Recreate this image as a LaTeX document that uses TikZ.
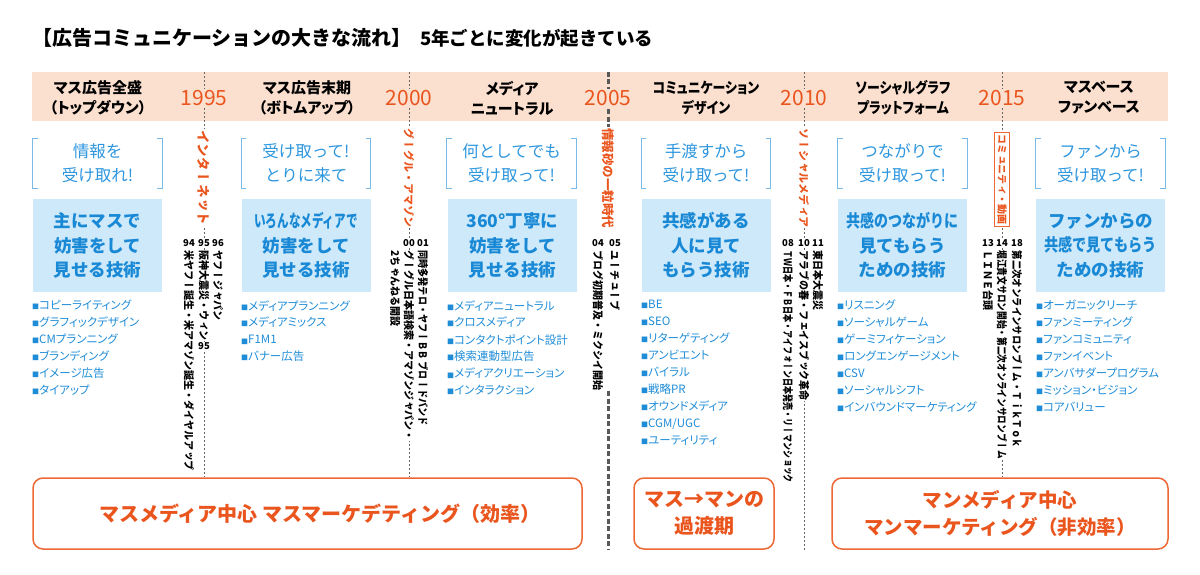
\documentclass[tikz,border=0pt]{standalone}
\usepackage{fontspec}
\setmainfont{Noto Sans CJK JP}
\newfontfamily\propfont{Noto Sans CJK JP}[RawFeature=+palt]
\newfontfamily\tatefont{Noto Sans CJK JP}[Vertical=RotatedGlyphs]
\usetikzlibrary{backgrounds}
\definecolor{bandpeach}{RGB}{251,224,208}
\definecolor{eraorange}{RGB}{234,85,30}
\definecolor{boxorange}{RGB}{236,104,52}
\definecolor{saybrk}{RGB}{120,185,232}
\definecolor{saytext}{RGB}{45,150,222}
\definecolor{techfill}{RGB}{206,233,249}
\definecolor{techtext}{RGB}{25,137,214}
\definecolor{itemtext}{RGB}{30,140,215}
\newcommand\itemsq{{\fontsize{7}{7}\selectfont ■}}
\newcommand\narrow[2]{\scalebox{#1}[1]{#2}}
\tikzset{
  ttl/.style={font=\bfseries\fontsize{20}{20}\selectfont,anchor=west,inner sep=0pt},
  bandbox/.style={fill=bandpeach,minimum width=1136,minimum height=49,inner sep=0pt},
  hdr/.style={font=\propfont\bfseries\fontsize{15}{20}\selectfont,align=center},
  yr/.style={font=\fontsize{21}{21}\selectfont,text=eraorange,fill=bandpeach,inner sep=1pt},
  say/.style={font=\fontsize{16.5}{24}\selectfont,text=saytext,align=center,minimum width=129,minimum height=49,inner sep=0pt},
  brk/.style={draw=saybrk,line width=1.2pt},
  tech/.style={fill=techfill,font=\bfseries\fontsize{17.5}{24.5}\selectfont,text=techtext,align=center,minimum width=129,minimum height=93,inner sep=0pt},
  era/.style={text=eraorange,rotate=-90,anchor=west,fill=white,inner sep=1pt},
  num/.style={font=\bfseries\fontsize{9.5}{9.5}\selectfont,fill=white,inner sep=0.5pt},
  ev/.style={font=\tatefont\bfseries\fontsize{10.8}{10.8}\selectfont,rotate=-90,xscale=0.926,anchor=west,fill=white,inner sep=0.5pt},
  items/.style={font=\propfont\fontsize{11.5}{17}\selectfont,text=itemtext,align=left,anchor=north west,inner sep=0pt},
  trend/.style={draw=boxorange,line width=1.5pt,rounded corners=10pt,fill=white,font=\bfseries\fontsize{20}{27}\selectfont,text=eraorange,align=center,minimum height=71},
  divthin/.style={draw=black!60,line width=0.6pt,dash pattern=on 2pt off 2pt},
  divthick/.style={draw=black!65,line width=3pt,dash pattern=on 5pt off 2.5pt}
}
\begin{document}
\begin{tikzpicture}[x=1pt,y=-1pt]
\useasboundingbox (0,0) rectangle (1200,575);
\node[ttl] (title) at (32,38) {【広告コミュニケーションの大きな流れ】};
\node[ttl,font=\bfseries\fontsize{18.5}{18.5}\selectfont] (subtitle) at (420,38) {5年ごとに変化が起きている};

\node[hdr] (h1) at (98,98) {マス広告全盛\\（トップダウン）};
\node[hdr] (h2) at (307,98) {マス広告末期\\（ボトムアップ）};
\node[hdr] (h3) at (512,98) {メディア\\ニュートラル};
\node[hdr,xscale=0.86] (h4) at (706,98) {コミュニケーション\\デザイン};
\node[hdr,xscale=0.86] (h5) at (903,98) {ソーシャルグラフ\\プラットフォーム};
\node[hdr] (h6) at (1099,98) {マスベース\\ファンベース};
\coordinate (d1) at (204,0);
\coordinate (d2) at (409,0);
\coordinate (d3) at (608,0);
\coordinate (d4) at (804,0);
\coordinate (d5) at (1002,0);
\node[yr] (y1) at (d1 |- h1) {1995};
\node[yr] (y2) at (d2 |- h1) {2000};
\node[yr] (y3) at (d3 |- h1) {2005};
\node[yr] (y4) at (d4 |- h1) {2010};
\node[yr] (y5) at (d5 |- h1) {2015};

\node[say] (s1) at (97.5,163.5) {情報を\\受け取れ!};
\node[say] (s2) at (306,163.5) {受け取って!\\とりに来て};
\node[say] (s3) at (511.5,163.5) {何としてでも\\受け取って!};
\node[say] (s4) at (706,163.5) {手渡すから\\受け取って!};
\node[say] (s5) at (902.5,163.5) {つながりで\\受け取って!};
\node[say] (s6) at (1100.5,163.5) {ファンから\\受け取って!};
\foreach \s in {s1,s2,s3,s4,s5,s6}{
  \draw[brk] ([xshift=5pt]\s.north west) -- (\s.north west) -- (\s.south west) -- ([xshift=5pt]\s.south west);
  \draw[brk] ([xshift=-5pt]\s.north east) -- (\s.north east) -- (\s.south east) -- ([xshift=-5pt]\s.south east);
}
\node[tech] (t1) at (97.5,245.5) {主にマスで\\妨害をして\\見せる技術};
\node[tech] (t2) at (306,245.5) {\narrow{0.66}{いろんなメディアで}\\妨害をして\\見せる技術};
\node[tech] (t3) at (512.5,245.5) {360°丁寧に\\妨害をして\\見せる技術};
\node[tech] (t4) at (706,245.5) {共感がある\\人に見て\\もらう技術};
\node[tech] (t5) at (902.5,245.5) {\narrow{0.8}{共感のつながりに}\\見てもらう\\ための技術};
\node[tech] (t6) at (1100.5,245.5) {ファンからの\\\narrow{0.81}{共感で見てもらう}\\ための技術};

\node[items] (l1) at (32,300) {\itemsq コピーライティング\\\itemsq グラフィックデザイン\\\itemsq CMプランニング\\\itemsq ブランディング\\\itemsq イメージ広告\\\itemsq タイアップ};
\node[items] (l2) at (241,300) {\itemsq メディアプランニング\\\itemsq メディアミックス\\\itemsq F1M1\\\itemsq バナー広告};
\node[items] (l3) at (447,300) {\itemsq メディアニュートラル\\\itemsq クロスメディア\\\itemsq コンタクトポイント設計\\\itemsq 検索連動型広告\\\itemsq メディアクリエーション\\\itemsq インタラクション};
\node[items] (l4) at (641,300) {\itemsq BE\\\itemsq SEO\\\itemsq リターゲティング\\\itemsq アンビエント\\\itemsq バイラル\\\itemsq 戦略PR\\\itemsq オウンドメディア\\\itemsq CGM/UGC\\\itemsq ユーティリティ};
\node[items] (l5) at (837,300) {\itemsq リスニング\\\itemsq ソーシャルゲーム\\\itemsq ゲーミフィケーション\\\itemsq ロングエンゲージメント\\\itemsq CSV\\\itemsq ソーシャルシフト\\\itemsq インバウンドマーケティング};
\node[items] (l6) at (1036,300) {\itemsq オーガニックリーチ\\\itemsq ファンミーティング\\\itemsq ファンコミュニティ\\\itemsq ファンイベント\\\itemsq アンバサダープログラム\\\itemsq ミッション・ビジョン\\\itemsq コアバリュー};

\node[era,font=\tatefont\bfseries\fontsize{13.5}{13.5}\selectfont] (e1) at (d1 |- 0,129) {インターネット};
\node[era,font=\tatefont\bfseries\fontsize{11}{11}\selectfont] (e2) at (d2 |- 0,127) {グーグル・アマゾン};
\node[era,font=\tatefont\bfseries\fontsize{12.5}{12.5}\selectfont] (e3) at (d3 |- 0,127) {情報砂の一粒時代};
\node[era,font=\tatefont\bfseries\fontsize{11}{11}\selectfont] (e4) at (d4 |- 0,127) {ソーシャルメディア};
\node[era,font=\tatefont\bfseries\fontsize{10}{10}\selectfont,draw=boxorange,line width=0.8pt,inner xsep=2pt,inner ysep=2.5pt] (e5) at (d5 |- 0,132) {コミュニティ・動画};

\node[num] (n94) at (189,243) {94};
\node[num] (n95) at (204,243) {95};
\node[num] (n96) at (218,243) {96};
\node[ev] (c94) at (189,250) {米ヤフー誕生・米アマゾン誕生・ダイヤルアップ};
\node[ev] (c95) at (204,250) {阪神大震災・ウィン};
\node[num,anchor=north] (c95b) at (c95.east) {95};
\node[ev] (c96) at (218,250) {ヤフージャパン};

\node[num] (n00) at (409,243) {00};
\node[num] (n01) at (423,243) {01};
\node[ev] (c00) at (409,250) {グーグル日本語検索・アマゾンジャパン・};
\node[ev] (c00b) at (395,250) {2ちゃんねる開設};
\node[ev,xscale=0.91] (c01) at (423,250) {同時多発テロ・ヤフーＢＢ ブロードバンド};

\node[num] (n04) at (598,243) {04};
\node[num] (n05) at (615,243) {05};
\node[ev] (c04) at (598,250) {ブログ初期普及・ミクシイ開始};
\node[ev] (c05) at (615,250) {ユーチューブ};

\node[num] (n08) at (788,243) {08};
\node[num] (n10) at (804,243) {10};
\node[num] (n11) at (818,243) {11};
\node[ev,xscale=0.8] (c08) at (788,250) {ＴＷ日本・ＦＢ日本・アイフォーン日本発売・リーマンショック};
\node[ev] (c10) at (804,250) {アラブの春・フェイスブック革命};
\node[ev] (c11) at (818,250) {東日本大震災};

\node[num] (n13) at (988,243) {13};
\node[num] (n14) at (1002,243) {14};
\node[num] (n18) at (1017,243) {18};
\node[ev] (c13) at (988,250) {ＬＩＮＥ台頭};
\node[ev,xscale=0.87] (c14) at (1002,250) {堀江貴文サロン開始・第二次オンラインサロンブーム};
\node[ev,xscale=0.94] (c18) at (1017,250) {第二次オンラインサロンブーム・ＴｉｋＴｏｋ};

\node[trend,minimum width=549] (tr1) at (307.5,513.5) {\hspace*{24pt}マスメディア中心\ マスマーケデティング（効率）};
\node[trend,minimum width=140] (tr2) at (704,513.5) {マス→マンの\\過渡期};
\node[trend,minimum width=336,font=\bfseries\fontsize{19.5}{27}\selectfont] (tr3) at (1000,513.5) {マンメディア中心\\マンマーケティング（非効率）};

\begin{scope}[on background layer]
\node[bandbox] (band) at (600,96.5) {};
\draw[divthin] (d1 |- band.north) -- (d1 |- tr1.north);
\draw[divthin] (d2 |- band.north) -- (d2 |- tr1.north);
\draw[divthick] (d3 |- band.north) -- (e3.west);
\draw[divthick] (d3 |- c04.east) -- (d3 |- tr2.south);
\draw[divthin] (d4 |- band.north) -- (d4 |- tr3.south);
\draw[divthin] (d5 |- band.north) -- (d5 |- tr3.north);
\end{scope}
\end{tikzpicture}
\end{document}
